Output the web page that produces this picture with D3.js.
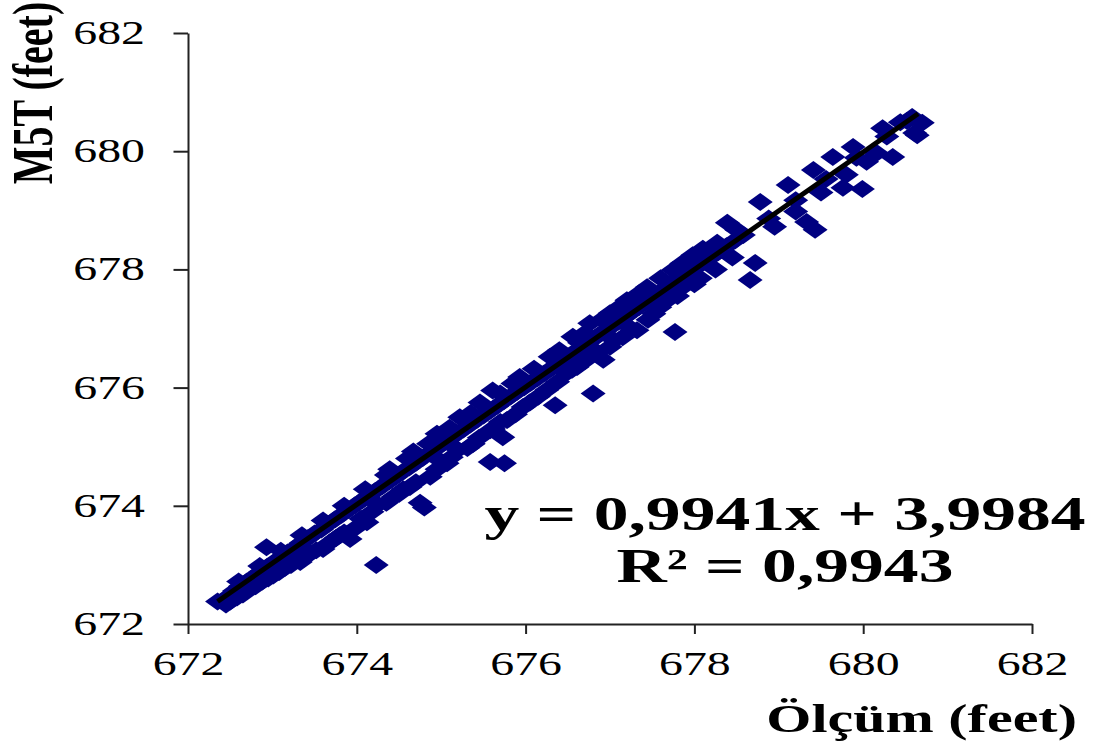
<!DOCTYPE html>
<html>
<head>
<meta charset="utf-8">
<script src="https://cdn.jsdelivr.net/npm/d3@7.9.0/dist/d3.min.js"></script>
<style>
  body { margin: 0; background: #fff; }
  svg { display: block; }
  text { font-family: "Liberation Serif", "Times New Roman", serif; fill: #000; }
</style>
</head>
<body>
<svg width="1094" height="745"></svg>
<script>
// Ölçüm (measured) vs M5T (model), feet
const olcum = [
  672.35, 672.42, 672.48, 672.55, 672.62, 672.70, 672.78, 672.86, 672.94, 673.02, 673.10, 673.18,
  673.26, 673.34, 673.42, 673.50, 673.58, 673.66, 673.74, 673.82, 673.90, 673.98,
  672.45, 672.58, 672.73, 672.88, 673.01, 673.15, 673.33, 673.45, 673.60, 673.75, 673.92, 673.98, 674.12, 673.85,
  672.93, 674.23,
  674.06, 674.14, 674.22, 674.30, 674.38, 674.46, 674.54, 674.62, 674.70, 674.78, 674.86, 674.94,
  675.02, 675.10, 675.18, 675.26, 675.34, 675.42, 675.50, 675.58, 675.66, 675.74, 675.82, 675.90, 675.98,
  674.39, 674.67, 674.95, 675.22, 675.46, 675.61, 675.93,
  674.25, 674.43, 674.63, 674.87, 675.07, 675.31, 675.58, 675.78, 675.97, 674.55, 675.00, 675.20, 675.45, 675.70,
  674.75, 674.80, 675.58, 675.75, 675.73, 676.35, 676.80,
  676.06, 676.14, 676.22, 676.30, 676.38, 676.46, 676.54, 676.62, 676.70, 676.78, 676.86, 676.94,
  677.02, 677.10, 677.18, 677.26, 677.34, 677.42, 677.50, 677.58, 677.66, 677.74, 677.82, 677.90, 677.98,
  676.29, 676.56, 676.64, 676.76, 677.00, 677.20, 677.44, 677.75, 677.98,
  676.25, 676.49, 676.61, 676.80, 676.92, 677.00, 677.32, 677.59, 677.86, 678.07, 676.15, 676.70, 677.15, 677.45, 677.70,
  677.77,
  678.08, 678.18, 678.28, 678.38, 678.48, 678.58, 678.88, 679.20, 679.56, 679.92, 680.28, 680.52,
  678.27, 678.39, 678.50, 678.78, 679.11, 679.41, 679.64, 679.88, 680.23, 680.44, 680.58,
  678.25, 678.45, 678.95, 679.20, 680.04, 680.16, 680.64, 680.70, 679.50, 679.80,
  678.72, 678.66, 679.33, 679.43, 679.76, 679.99, 680.35, 680.61,
  672.50, 672.65, 672.80, 672.95, 673.08, 673.22, 673.38, 673.52, 673.68, 673.80, 674.05, 674.18, 674.35,
  674.50, 674.70, 674.95, 675.12, 675.38, 675.62, 675.88, 676.05, 676.38, 676.55, 676.85, 677.05, 677.25,
  677.52, 677.80, 678.00,
  672.60, 672.85, 673.10, 673.35, 673.60, 673.85, 674.10, 674.35, 674.60, 674.85, 675.10, 675.35, 675.70,
  675.85, 676.10, 676.40, 676.70, 676.90, 677.10, 677.35, 677.60, 677.85, 678.10
];
const m5t = [
  672.38, 672.40, 672.47, 672.56, 672.64, 672.72, 672.80, 672.88, 672.97, 673.05, 673.12, 673.21,
  673.28, 673.37, 673.45, 673.53, 673.60, 673.69, 673.77, 673.85, 673.93, 674.01,
  672.33, 672.45, 672.60, 672.72, 672.82, 672.95, 673.05, 673.20, 673.27, 673.45, 673.44, 673.62, 673.72, 673.55,
  673.30, 673.00,
  674.09, 674.17, 674.25, 674.33, 674.41, 674.49, 674.57, 674.65, 674.73, 674.81, 674.89, 674.97,
  675.05, 675.13, 675.21, 675.29, 675.37, 675.45, 675.53, 675.61, 675.69, 675.77, 675.85, 675.93, 676.00,
  674.62, 674.92, 675.22, 675.50, 675.75, 675.95, 676.18,
  674.02, 674.15, 674.32, 674.49, 674.72, 674.98, 675.28, 675.45, 675.67, 674.28, 674.75, 674.95, 675.15, 675.42,
  674.05, 673.97, 674.74, 674.72, 675.16, 675.70, 675.90,
  676.08, 676.16, 676.24, 676.32, 676.40, 676.48, 676.56, 676.64, 676.72, 676.80, 676.88, 676.96,
  677.04, 677.12, 677.20, 677.28, 677.36, 677.44, 677.52, 677.60, 677.68, 677.76, 677.84, 677.92, 678.00,
  676.52, 676.86, 676.76, 677.09, 677.26, 677.48, 677.70, 677.99, 678.24,
  675.96, 676.25, 676.35, 676.59, 676.47, 676.69, 676.97, 677.36, 677.70, 677.85, 675.85, 676.45, 676.85, 677.15, 677.50,
  676.94,
  678.09, 678.19, 678.29, 678.39, 678.49, 678.58, 678.86, 679.17, 679.53, 679.89, 680.25, 680.51,
  678.45, 678.79, 678.67, 679.14, 679.43, 679.68, 679.90, 680.07, 680.39, 680.49, 680.58,
  678.00, 678.20, 678.72, 678.98, 679.82, 679.97, 680.27, 680.48, 679.30, 679.60,
  678.11, 677.82, 678.80, 678.67, 679.38, 679.36, 679.90, 680.31,
  672.38, 672.50, 672.64, 672.77, 672.88, 673.00, 673.12, 673.25, 673.38, 673.50, 673.78, 673.90, 674.05,
  674.20, 674.40, 674.62, 674.82, 675.05, 675.30, 675.55, 675.75, 676.10, 676.30, 676.60, 676.80, 677.00,
  677.25, 677.55, 677.75,
  672.72, 672.98, 673.24, 673.50, 673.75, 674.00, 674.28, 674.52, 674.80, 675.05, 675.32, 675.57, 675.90,
  676.07, 676.32, 676.63, 676.92, 677.15, 677.35, 677.60, 677.85, 678.10, 678.35
];
const ticks = [672, 674, 676, 678, 680, 682];
const slope = 0.9941, intercept = 3.9984, r2 = 0.9943;

const points = olcum.map((v, i) => ({ x: v, y: m5t[i] }));
const sx = 1.45; // the picture is stretched sideways
const serif = '"Liberation Serif", "Times New Roman", serif';
const fmt = v => d3.format('.4f')(v).replace('.', ',');

const svg = d3.select('svg');
const x = d3.scaleLinear().domain([672, 682]).range([188, 1032]);
const y = d3.scaleLinear().domain([672, 682]).range([624, 33]);

// axes
const yAxis = svg.append('g')
  .attr('transform', `translate(${x(672)},0)`)
  .call(d3.axisLeft(y).tickValues(ticks).tickSize(14.5).tickSizeOuter(0).tickFormat(d3.format('d')));
yAxis.selectAll('text')
  .attr('x', null)
  .attr('transform', 'translate(-43,0) scale(' + sx + ',1)');

const xAxis = svg.append('g')
  .attr('transform', `translate(0,${y(672)})`)
  .call(d3.axisBottom(x).tickValues(ticks).tickSize(10).tickSizeOuter(0).tickFormat(d3.format('d')));
xAxis.selectAll('text')
  .attr('y', null).attr('dy', null)
  .attr('transform', 'translate(0,51) scale(' + sx + ',1)');

svg.selectAll('g').attr('font-family', serif).attr('font-size', 33);
svg.selectAll('.tick text').style('font-family', serif).style('font-size', '33px');
svg.selectAll('.domain, .tick line').attr('stroke', '#222').attr('stroke-width', 2);

// markers
const diamond = 'M0,-9L12.5,0L0,9L-12.5,0Z';
svg.append('g')
  .selectAll('path')
  .data(points)
  .join('path')
  .attr('d', diamond)
  .attr('transform', d => `translate(${x(d.x)},${y(d.y)})`)
  .attr('fill', '#000080');

// linear trend line
const [x0, x1] = d3.extent(olcum);
svg.append('line')
  .attr('x1', x(x0)).attr('y1', y(slope * x0 + intercept))
  .attr('x2', x(x1 - 0.05)).attr('y2', y(slope * (x1 - 0.05) + intercept))
  .attr('stroke', '#000')
  .attr('stroke-width', 5);

// equation
svg.append('text')
  .attr('transform', `translate(785,530) scale(${sx},1)`)
  .attr('text-anchor', 'middle')
  .style('font-size', '48px').style('font-weight', 'bold')
  .text(`y = ${fmt(slope)}x + ${fmt(intercept)}`);
svg.append('text')
  .attr('transform', `translate(785,582) scale(${sx},1)`)
  .attr('text-anchor', 'middle')
  .style('font-size', '48px').style('font-weight', 'bold')
  .text(`R² = ${fmt(r2)}`);

// axis titles
svg.append('text')
  .attr('transform', `translate(1077,732) scale(${sx},1)`)
  .attr('text-anchor', 'end')
  .style('font-size', '40px').style('font-weight', 'bold')
  .text('Ölçüm (feet)');
svg.append('text')
  .attr('transform', `translate(52,93) scale(${sx},1) rotate(-90)`)
  .attr('text-anchor', 'middle')
  .style('font-size', '40px').style('font-weight', 'bold')
  .text('M5T (feet)');
</script>
</body>
</html>
